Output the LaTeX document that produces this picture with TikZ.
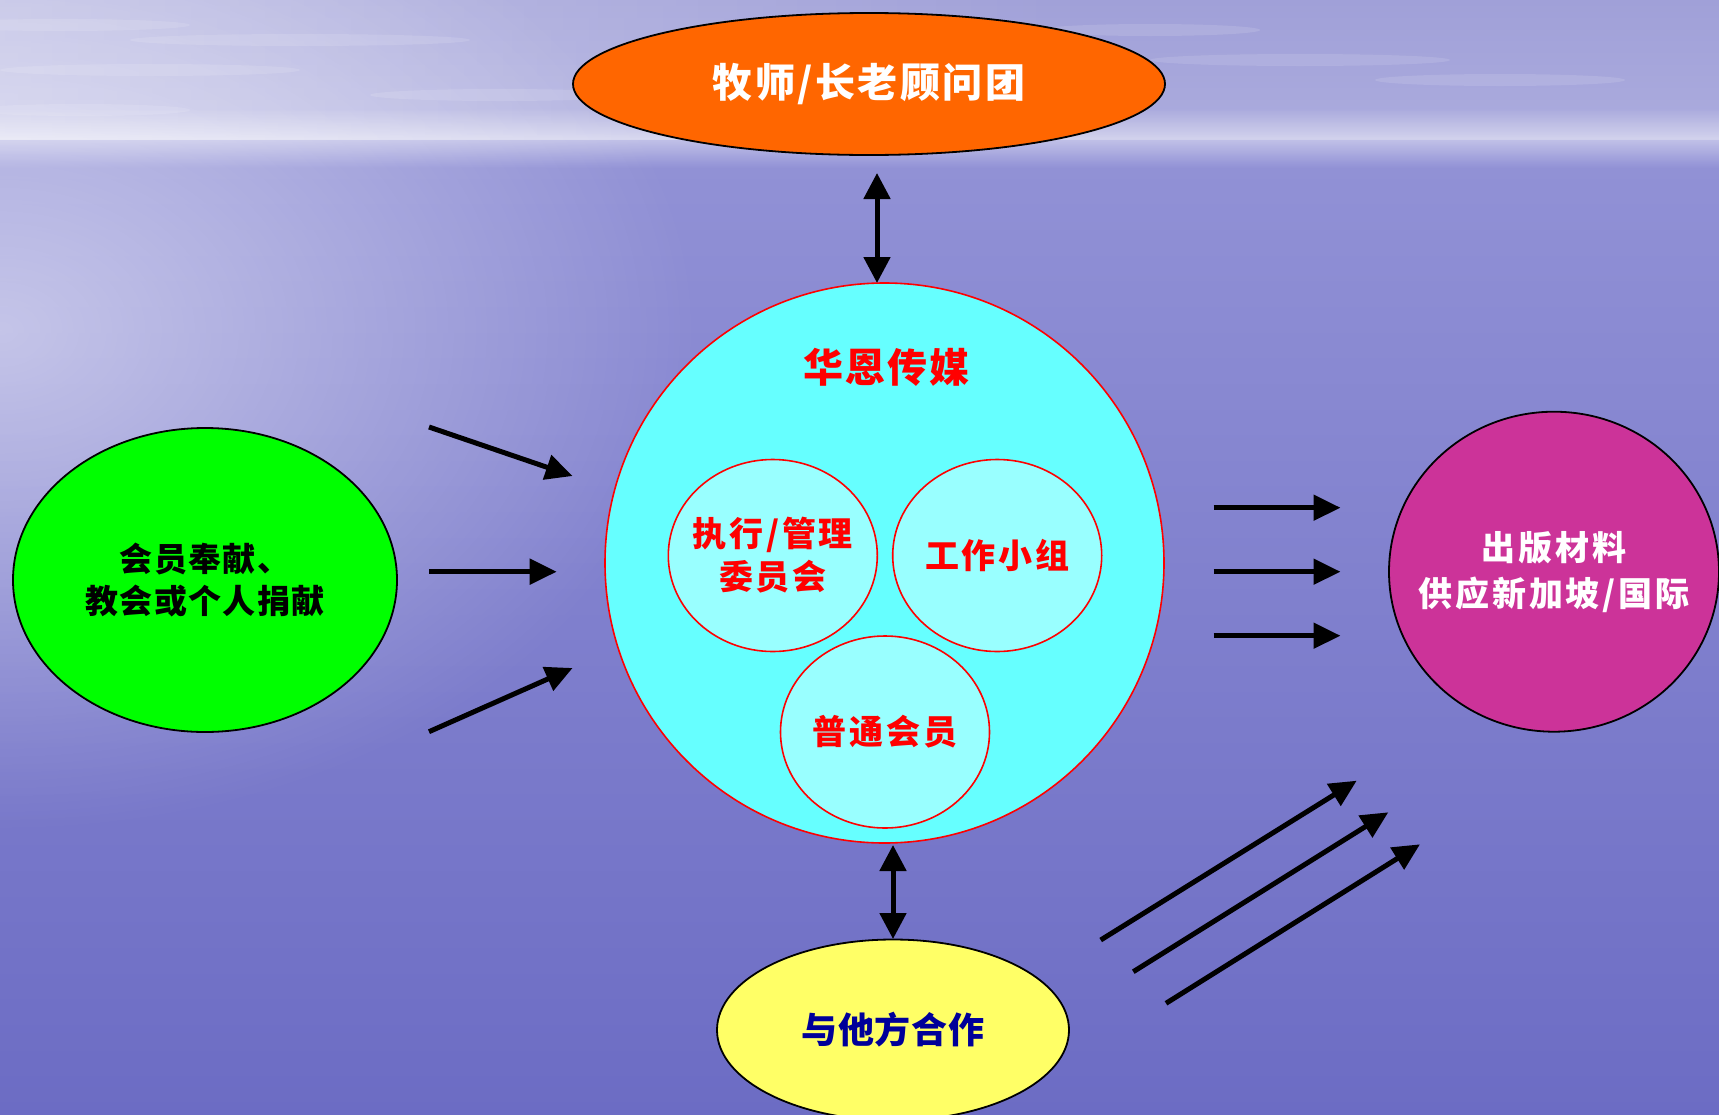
\documentclass[tikz,border=0pt]{standalone}
\usepackage{fontspec}
\setmainfont{Noto Sans CJK SC}
\usetikzlibrary{arrows.meta,shapes.geometric,fadings}
\definecolor{skytop}{HTML}{A0A0D8}
\definecolor{skybot}{HTML}{ACACDE}
\definecolor{seatop}{HTML}{9292D6}
\definecolor{seabot}{HTML}{6C6CC4}
\definecolor{orangeC}{HTML}{FF6600}
\definecolor{greenC}{HTML}{00FF00}
\definecolor{cyanC}{HTML}{66FFFF}
\definecolor{cyanL}{HTML}{99FFFF}
\definecolor{magC}{HTML}{CC3399}
\definecolor{yelC}{HTML}{FFFF66}
\definecolor{navyC}{HTML}{000099}
\tikzfading[name=fadeleft, left color=transparent!0, right color=transparent!100]
\tikzfading[name=band, top color=transparent!100, bottom color=transparent!100, middle color=transparent!0]
\tikzfading[name=glow, inner color=transparent!0, outer color=transparent!100]
\newcommand{\cjkfont}[2]{\bfseries\fontsize{#1}{#2}\selectfont}
\tikzset{
  bubble/.style={ellipse, draw=black, line width=1.8pt, inner sep=0pt},
  redbubble/.style={ellipse, draw=red, line width=1.6pt, inner sep=0pt, fill=cyanL,
                    minimum width=209pt, minimum height=192pt},
  label text/.style={inner sep=0pt, align=center},
  arr/.style={line width=5pt, -{Triangle[length=27pt,width=25pt]}},
  dbl/.style={line width=5pt, {Triangle[length=26pt,width=26pt]}-{Triangle[length=26pt,width=26pt]}},
  streak/.style={fill=white, opacity=0.12}
}
\begin{document}
\begin{tikzpicture}[x=1pt,y=-1pt]
\useasboundingbox (0,0) rectangle (1719,1114);
% background
\shade[top color=skytop, bottom color=skybot] (0,0) rectangle (1719,140);
\fill[white, opacity=0.35, path fading=fadeleft] (0,0) rectangle (1100,140);
\shade[top color=seatop, bottom color=seabot] (0,140) rectangle (1719,1114);
\fill[white, opacity=0.5, path fading=glow] (0,330) ellipse [x radius=700, y radius=500];
\fill[white, opacity=0.45, path fading=band] (-20,108) rectangle (1740,168);
\foreach \sx/\sy/\sw in {60/25/260, 300/40/340, 150/70/300, 500/95/260, 1300/60/300, 1500/80/250, 1150/30/220, 80/110/220}
  \fill[streak] (\sx,\sy) ellipse [x radius=\sw/2, y radius=6];
% shapes
\node[bubble, fill=orangeC, minimum width=592pt, minimum height=142pt] (elders) at (869,84) {};
\node[ellipse, draw=red, line width=1.6pt, fill=cyanC, minimum width=559pt, minimum height=560pt, inner sep=0pt] (hub) at (884.5,563) {};
\node[redbubble] (exec) at (772.8,555.5) {};
\node[redbubble] (work) at (997.2,555.5) {};
\node[redbubble] (members) at (885,732) {};
\node[bubble, fill=greenC, minimum width=384pt, minimum height=304pt] (donate) at (205,580) {};
\node[bubble, fill=magC, minimum width=330pt, minimum height=320pt] (publish) at (1554,571.7) {};
\node[bubble, fill=yelC, minimum width=352pt, minimum height=181pt] (coop) at (893,1030) {};
% texts
\node[label text, text=white, font=\cjkfont{40}{48}\addfontfeature{LetterSpace=6}] (eldersT) at (elders.center) {牧师/长老顾问团};
\node[label text, text=red, font=\cjkfont{40}{48}\addfontfeature{LetterSpace=5}] (hubT) at (886,367) {华恩传媒};
\node[label text, text=red, font=\cjkfont{34}{43}\addfontfeature{LetterSpace=8}] (execT) at (exec.center) {执行/管理\\委员会};
\node[label text, text=red, font=\cjkfont{34}{43}\addfontfeature{LetterSpace=8}] (workT) at (work.center) {工作小组};
\node[label text, text=red, font=\cjkfont{34}{43}\addfontfeature{LetterSpace=8}] (membersT) at (members.center) {普通会员};
\node[label text, text=black, font=\cjkfont{33}{42}\addfontfeature{LetterSpace=4}] (donateT) at (donate.center) {会员奉献、\\教会或个人捐献};
\node[label text, text=white, font=\cjkfont{34}{46}\addfontfeature{LetterSpace=8}] (publishT) at (publish.center) {出版材料\\供应新加坡/国际};
\node[label text, text=navyC, font=\cjkfont{36}{44}\addfontfeature{LetterSpace=2}] (coopT) at (coop.center) {与他方合作};
% arrow end points
\coordinate (tA) at (877,173);  \coordinate (tB) at (877,283);
\coordinate (bA) at (893,845);  \coordinate (bB) at (893,939);
\coordinate (l1s) at (429,427);   \coordinate (l1e) at (572.6,476);
\coordinate (l2s) at (429,571.7); \coordinate (l2e) at (556.7,571.7);
\coordinate (l3s) at (429,731.7); \coordinate (l3e) at (572.6,668);
\coordinate (r1s) at (1213.5,507.7); \coordinate (r1e) at (1340.5,507.7);
\coordinate (r2s) at (1213.5,571.7); \coordinate (r2e) at (1340.5,571.7);
\coordinate (r3s) at (1213.5,635.7); \coordinate (r3e) at (1340.5,635.7);
\coordinate (d1s) at (1100.7,940);   \coordinate (d1e) at (1356.7,780.7);
\coordinate (d2s) at (1133.3,971.7); \coordinate (d2e) at (1388.3,812.3);
\coordinate (d3s) at (1166,1003.3);  \coordinate (d3e) at (1420,844.3);
% connectors
\draw[dbl] (tA) -- (tB);
\draw[dbl] (bA) -- (bB);
\draw[arr] (l1s) -- (l1e);
\draw[arr] (l2s) -- (l2e);
\draw[arr] (l3s) -- (l3e);
\draw[arr] (r1s) -- (r1e);
\draw[arr] (r2s) -- (r2e);
\draw[arr] (r3s) -- (r3e);
\draw[arr] (d1s) -- (d1e);
\draw[arr] (d2s) -- (d2e);
\draw[arr] (d3s) -- (d3e);
\end{tikzpicture}
\end{document}
